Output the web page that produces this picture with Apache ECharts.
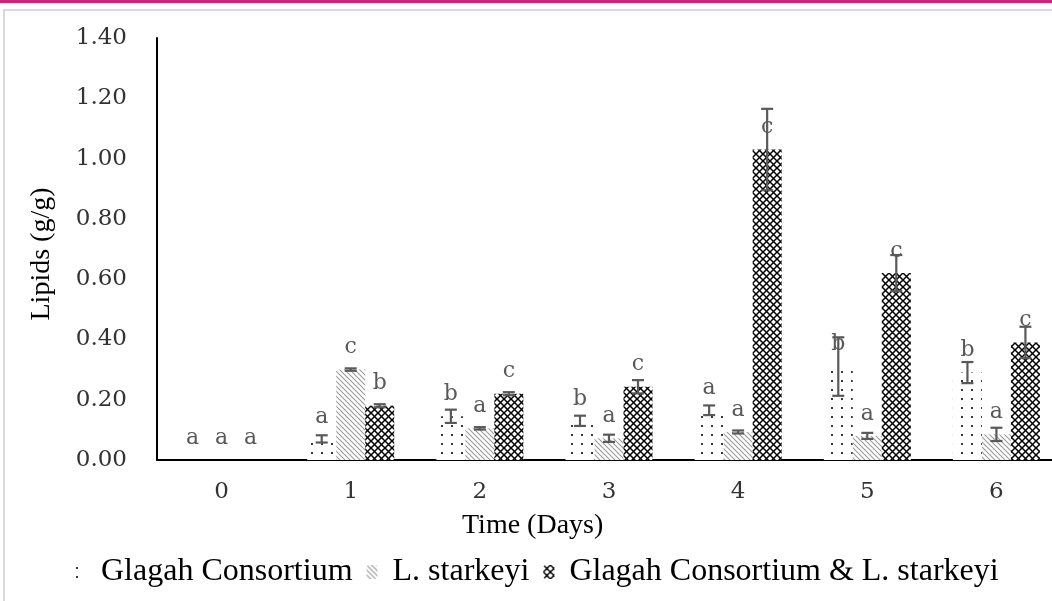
<!DOCTYPE html>
<html>
<head>
<meta charset="utf-8">
<script src="https://cdn.jsdelivr.net/npm/echarts@6/dist/echarts.min.js"></script>
<style>
html,body{margin:0;padding:0;background:#fff;overflow:hidden;}
#chart{width:1061px;height:601px;}
</style>
</head>
<body>
<div id="chart"></div>
<script>
// ---- data ----
var days = ['0', '1', '2', '3', '4', '5', '6'];
var seriesNames = ['Glagah Consortium', 'L. starkeyi', 'Glagah Consortium & L. starkeyi'];
var gcValues = [0, 0.07, 0.145, 0.13, 0.165, 0.31, 0.29];
var gcErrors = [0, 0.012, 0.022, 0.017, 0.016, 0.097, 0.035];
var gcLetters = ['a', 'a', 'b', 'b', 'a', 'b', 'b'];
var lsValues = [0, 0.30, 0.105, 0.072, 0.093, 0.08, 0.085];
var lsErrors = [0, 0.004, 0.004, 0.012, 0.005, 0.01, 0.022];
var lsLetters = ['a', 'c', 'a', 'a', 'a', 'a', 'a'];
var coValues = [0, 0.18, 0.22, 0.243, 1.03, 0.62, 0.39];
var coErrors = [0, 0.005, 0.005, 0.022, 0.135, 0.06, 0.052];
var coLetters = ['a', 'b', 'c', 'c', 'c', 'c', 'c'];
var yTicks = { min: 0, max: 1.4, interval: 0.2 };

// ---- pattern fills ----
function makeTile(w, h, draw) {
  var c = document.createElement('canvas');
  c.width = w; c.height = h;
  var ctx = c.getContext('2d');
  ctx.fillStyle = '#ffffff';
  ctx.fillRect(0, 0, w, h);
  draw(ctx, w, h);
  return c;
}
var dotTile = makeTile(10, 9, function (ctx) {
  ctx.fillStyle = '#3a3a3a';
  ctx.fillRect(1, 2, 2, 2);
});
var hatchTile = makeTile(5, 5, function (ctx, w, h) {
  ctx.strokeStyle = '#9a9a9a';
  ctx.lineWidth = 1.1;
  for (var k = -1; k <= 1; k++) {
    ctx.beginPath();
    ctx.moveTo(k * w - 1, -1);
    ctx.lineTo(k * w + w + 1, h + 1);
    ctx.stroke();
  }
});
var crossTile = makeTile(7, 7, function (ctx, w, h) {
  ctx.strokeStyle = '#000000';
  ctx.lineWidth = 1.5;
  for (var k = -1; k <= 1; k++) {
    ctx.beginPath();
    ctx.moveTo(k * w - 1, -1);
    ctx.lineTo(k * w + w + 1, h + 1);
    ctx.stroke();
    ctx.beginPath();
    ctx.moveTo(k * w + w + 1, -1);
    ctx.lineTo(k * w - 1, h + 1);
    ctx.stroke();
  }
});
var fills = [
  { image: dotTile, repeat: 'repeat' },
  { image: hatchTile, repeat: 'repeat' },
  { image: crossTile, repeat: 'repeat' }
];

var BAR_W = 29;
var values = [gcValues, lsValues, coValues];
var errors = [gcErrors, lsErrors, coErrors];
var letters = [gcLetters, lsLetters, coLetters];

var series = [];
for (var s = 0; s < 3; s++) {
  (function (s) {
    series.push({
      name: seriesNames[s],
      type: 'bar',
      barWidth: BAR_W,
      barGap: '0%',
      data: values[s],
      itemStyle: { color: fills[s] },
      label: {
        show: true,
        position: 'top',
        distance: 11,
        color: '#595959',
        fontFamily: 'DejaVu Serif',
        fontSize: 22,
        formatter: function (p) { return letters[s][p.dataIndex]; }
      },
      z: 2
    });
  })(s);
}
// error bars
for (var e = 0; e < 3; e++) {
  (function (e) {
    var d = [];
    for (var i = 0; i < days.length; i++) d.push([i, values[e][i], errors[e][i]]);
    series.push({
      name: seriesNames[e] + ' err',
      type: 'custom',
      silent: true,
      z: 5,
      data: d,
      renderItem: function (params, api) {
        var idx = api.value(0), v = api.value(1), er = api.value(2);
        if (!er) return null;
        var off = (e - 1) * BAR_W;
        var hi = api.coord([idx, v + er]);
        var lo = api.coord([idx, v - er]);
        var x = hi[0] + off;
        var cw = 6;
        var st = { stroke: '#595959', lineWidth: 2.2 };
        return {
          type: 'group',
          children: [
            { type: 'line', shape: { x1: x, y1: hi[1], x2: x, y2: lo[1] }, style: st },
            { type: 'line', shape: { x1: x - cw, y1: hi[1], x2: x + cw, y2: hi[1] }, style: st },
            { type: 'line', shape: { x1: x - cw, y1: lo[1], x2: x + cw, y2: lo[1] }, style: st }
          ]
        };
      }
    });
  })(e);
}

var chart = echarts.init(document.getElementById('chart'), null, { renderer: 'canvas' });
chart.setOption({
  animation: false,
  backgroundColor: '#ffffff',
  graphic: [
    { type: 'rect', shape: { x: 0, y: 0, width: 1061, height: 3 }, style: { fill: '#be2a78' }, z: 0 },
    { type: 'rect', shape: { x: 4, y: 10, width: 1100, height: 620 }, style: { fill: 'none', stroke: '#d9d9d9', lineWidth: 2 }, z: 0 },
    { type: 'text', left: 462, top: 512, style: { text: 'Time (Days)', font: '28px "Liberation Serif"', fill: '#000' } },
    { type: 'text', x: 42, y: 254, rotation: Math.PI / 2, style: { text: 'Lipids (g/g)', font: '28px "Liberation Serif"', fill: '#000', align: 'center', verticalAlign: 'middle' } }
  ],
  legend: {
    data: seriesNames,
    left: 70,
    top: 551,
    itemWidth: 11,
    itemHeight: 14,
    itemGap: 14,
    textStyle: { fontFamily: 'Liberation Serif', fontSize: 32, color: '#000', padding: [0, 0, 0, 10] }
  },
  grid: { left: 157, right: 0, top: 38, bottom: 141, containLabel: false },
  xAxis: {
    type: 'category',
    data: days,
    axisLine: { lineStyle: { color: '#000', width: 2 } },
    axisTick: { show: false },
    axisLabel: { margin: 21, fontFamily: 'DejaVu Serif', fontSize: 23, color: '#333' }
  },
  yAxis: {
    type: 'value',
    min: yTicks.min,
    max: yTicks.max,
    interval: yTicks.interval,
    axisLine: { show: true, lineStyle: { color: '#000', width: 2 } },
    axisTick: { show: false },
    splitLine: { show: false },
    axisLabel: { margin: 30, fontFamily: 'DejaVu Serif', fontSize: 23, color: '#333', formatter: function (v) { return v.toFixed(2); } }
  },
  series: series
});
</script>
</body>
</html>
